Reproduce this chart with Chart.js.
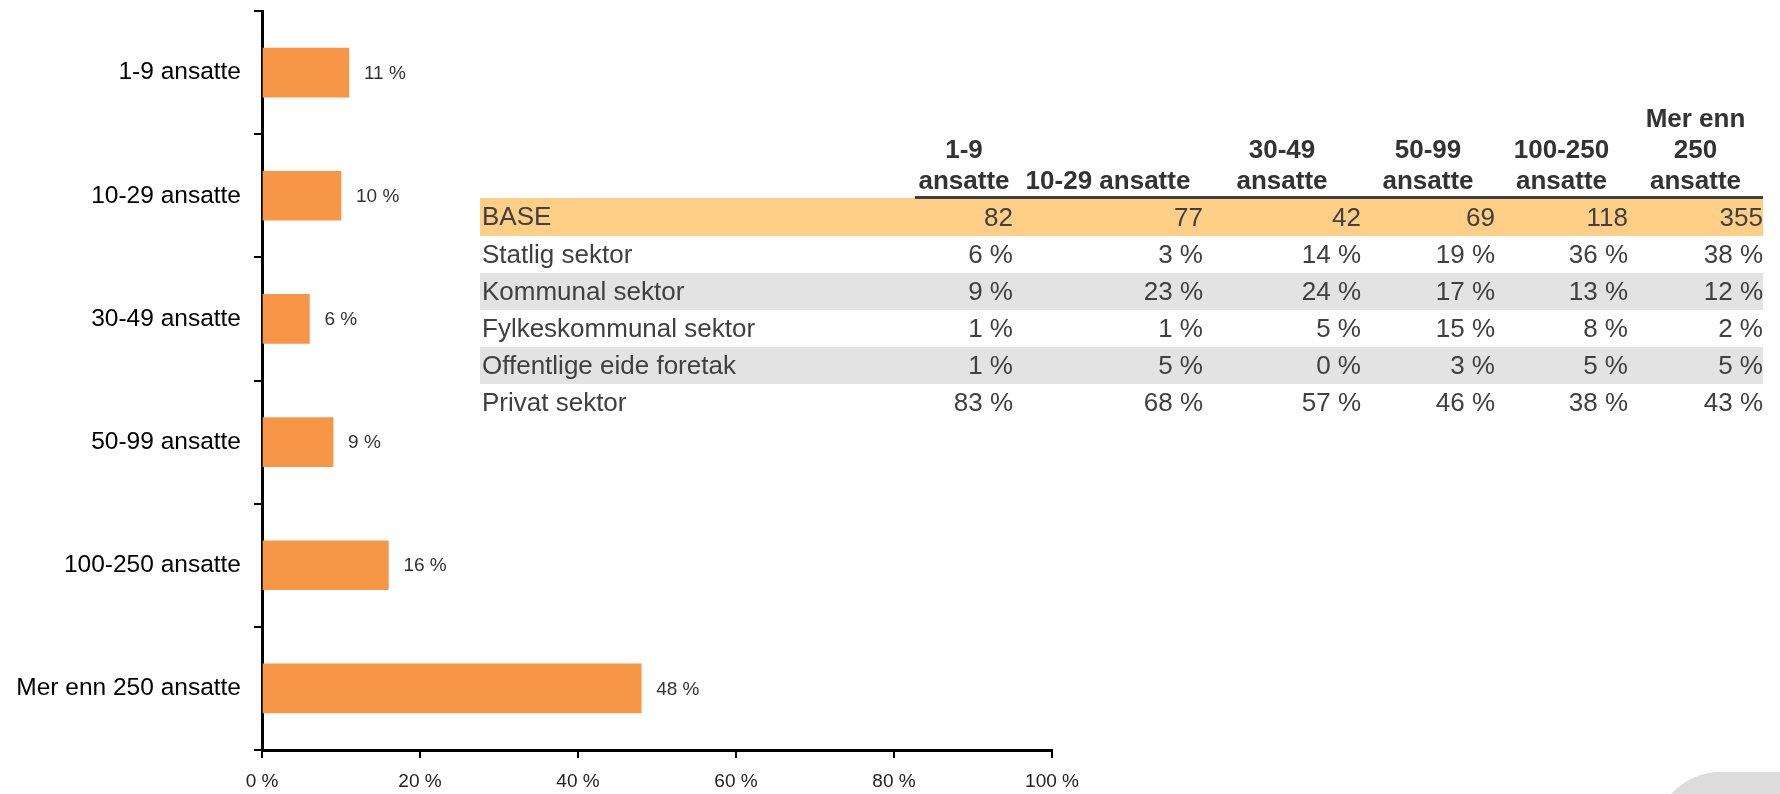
<!DOCTYPE html>
<html lang="no">
<head>
<meta charset="UTF-8">
<title>Ansatte per virksomhetsstørrelse</title>
<script src="https://cdn.jsdelivr.net/npm/chart.js"></script>
<style>
    body {
        margin: 0;
        background: #ffffff;
        font-family: "Liberation Sans", Arial, sans-serif;
        width: 1780px;
        height: 794px;
        overflow: hidden;
        position: relative;
    }
    #chartBox {
        position: absolute;
        left: 0;
        top: 0;
        width: 1100px;
        height: 794px;
    }
    #sectorTable {
        position: absolute;
        left: 480px;
        top: 103px;
        border-collapse: collapse;
        border-spacing: 0;
        color: #404040;
        font-size: 26px;
    }
    #sectorTable th {
        font-weight: bold;
        color: #333;
        line-height: 31px;
        vertical-align: bottom;
        text-align: center;
        padding: 0;
    }
    #sectorTable th.num {
        border-bottom: 3px solid #404040;
    }
    #sectorTable td {
        height: 37px;
        padding: 0;
        vertical-align: middle;
        text-align: right;
        white-space: nowrap;
    }
    #sectorTable td.label {
        text-align: left;
        padding-left: 2px;
    }
    #sectorTable tr.base td { background: #ffcf87; }
    #sectorTable tr.shade td { background: #e3e3e3; }
    .corner {
        position: absolute;
        left: 1655px;
        top: 772px;
        width: 230px;
        height: 130px;
        border-radius: 65px;
        background: #dcdcdc;
    }
</style>
</head>
<body>
<div id="chartBox"><canvas id="sizeChart" width="1100" height="794"></canvas></div>
<table id="sectorTable"></table>
<div class="corner"></div>

<script>
// bar chart data
const categories = ['1-9 ansatte', '10-29 ansatte', '30-49 ansatte', '50-99 ansatte', '100-250 ansatte', 'Mer enn 250 ansatte'];
const barValues = [11, 10, 6, 9, 16, 48];
const xTicks = [0, 20, 40, 60, 80, 100];

// table data
const tableHeaders = [['1-9', 'ansatte'], ['10-29 ansatte'], ['30-49', 'ansatte'], ['50-99', 'ansatte'], ['100-250', 'ansatte'], ['Mer enn', '250', 'ansatte']];
const columnWidths = [98, 190, 158, 134, 133, 135];
const baseCounts = [82, 77, 42, 69, 118, 355];
const sectorNames = ['Statlig sektor', 'Kommunal sektor', 'Fylkeskommunal sektor', 'Offentlige eide foretak', 'Privat sektor'];
const statlig = [6, 3, 14, 19, 36, 38];
const kommunal = [9, 23, 24, 17, 13, 12];
const fylkeskommunal = [1, 1, 5, 15, 8, 2];
const offentligeEide = [1, 5, 0, 3, 5, 5];
const privat = [83, 68, 57, 46, 38, 43];
const sectorValues = [statlig, kommunal, fylkeskommunal, offentligeEide, privat];

function buildTable() {
    const table = document.getElementById('sectorTable');
    let html = '<tr><th style="width:435px"></th>';
    tableHeaders.forEach((h, i) => {
        html += `<th class="num" style="width:${columnWidths[i]}px">${h.join('<br>')}</th>`;
    });
    html += '</tr>';
    html += '<tr class="base"><td class="label">BASE</td>';
    baseCounts.forEach(v => { html += `<td>${v}</td>`; });
    html += '</tr>';
    sectorNames.forEach((name, r) => {
        html += `<tr class="${r % 2 === 1 ? 'shade' : ''}"><td class="label">${name}</td>`;
        sectorValues[r].forEach(v => { html += `<td>${v} %</td>`; });
        html += '</tr>';
    });
    table.innerHTML = html;
}
buildTable();

const valueLabels = {
    id: 'valueLabels',
    afterDatasetsDraw(chart) {
        const ctx = chart.ctx;
        const meta = chart.getDatasetMeta(0);
        ctx.save();
        ctx.font = '19px "Liberation Sans", Arial, sans-serif';
        ctx.fillStyle = '#333';
        ctx.textBaseline = 'middle';
        meta.data.forEach((bar, i) => {
            ctx.fillText(barValues[i] + ' %', bar.x + 15, bar.y + 1);
        });
        ctx.restore();
    }
};

new Chart(document.getElementById('sizeChart').getContext('2d'), {
    type: 'bar',
    data: {
        labels: categories,
        datasets: [{
            data: barValues,
            backgroundColor: '#f79646',
            barThickness: 49
        }]
    },
    options: {
        responsive: false,
        animation: false,
        indexAxis: 'y',
        layout: { padding: { top: 11, right: 48, left: 0, bottom: 0 } },
        plugins: { legend: { display: false }, tooltip: { enabled: false } },
        scales: {
            x: {
                min: 0,
                max: 100,
                afterBuildTicks(scale) { scale.ticks = xTicks.map(v => ({ value: v })); },
                afterFit(scale) { scale.height = 44; },
                grid: { drawOnChartArea: false, drawTicks: true, tickLength: 8, color: '#000', lineWidth: 2 },
                border: { display: true, color: '#000', width: 3 },
                ticks: {
                    padding: 12,
                    color: '#222',
                    font: { family: '"Liberation Sans", Arial, sans-serif', size: 19 },
                    callback: v => v + ' %'
                }
            },
            y: {
                afterFit(scale) {
                    scale.width = 262;
                    scale.paddingTop = 0;
                    scale.paddingBottom = 0;
                },
                grid: { offset: true, drawOnChartArea: false, drawTicks: true, tickLength: 8, color: '#000', lineWidth: 2 },
                border: { display: true, color: '#000', width: 3 },
                ticks: {
                    padding: 13,
                    color: '#000',
                    font: { family: '"Liberation Sans", Arial, sans-serif', size: 24.5 }
                }
            }
        }
    },
    plugins: [valueLabels]
});
</script>
</body>
</html>
